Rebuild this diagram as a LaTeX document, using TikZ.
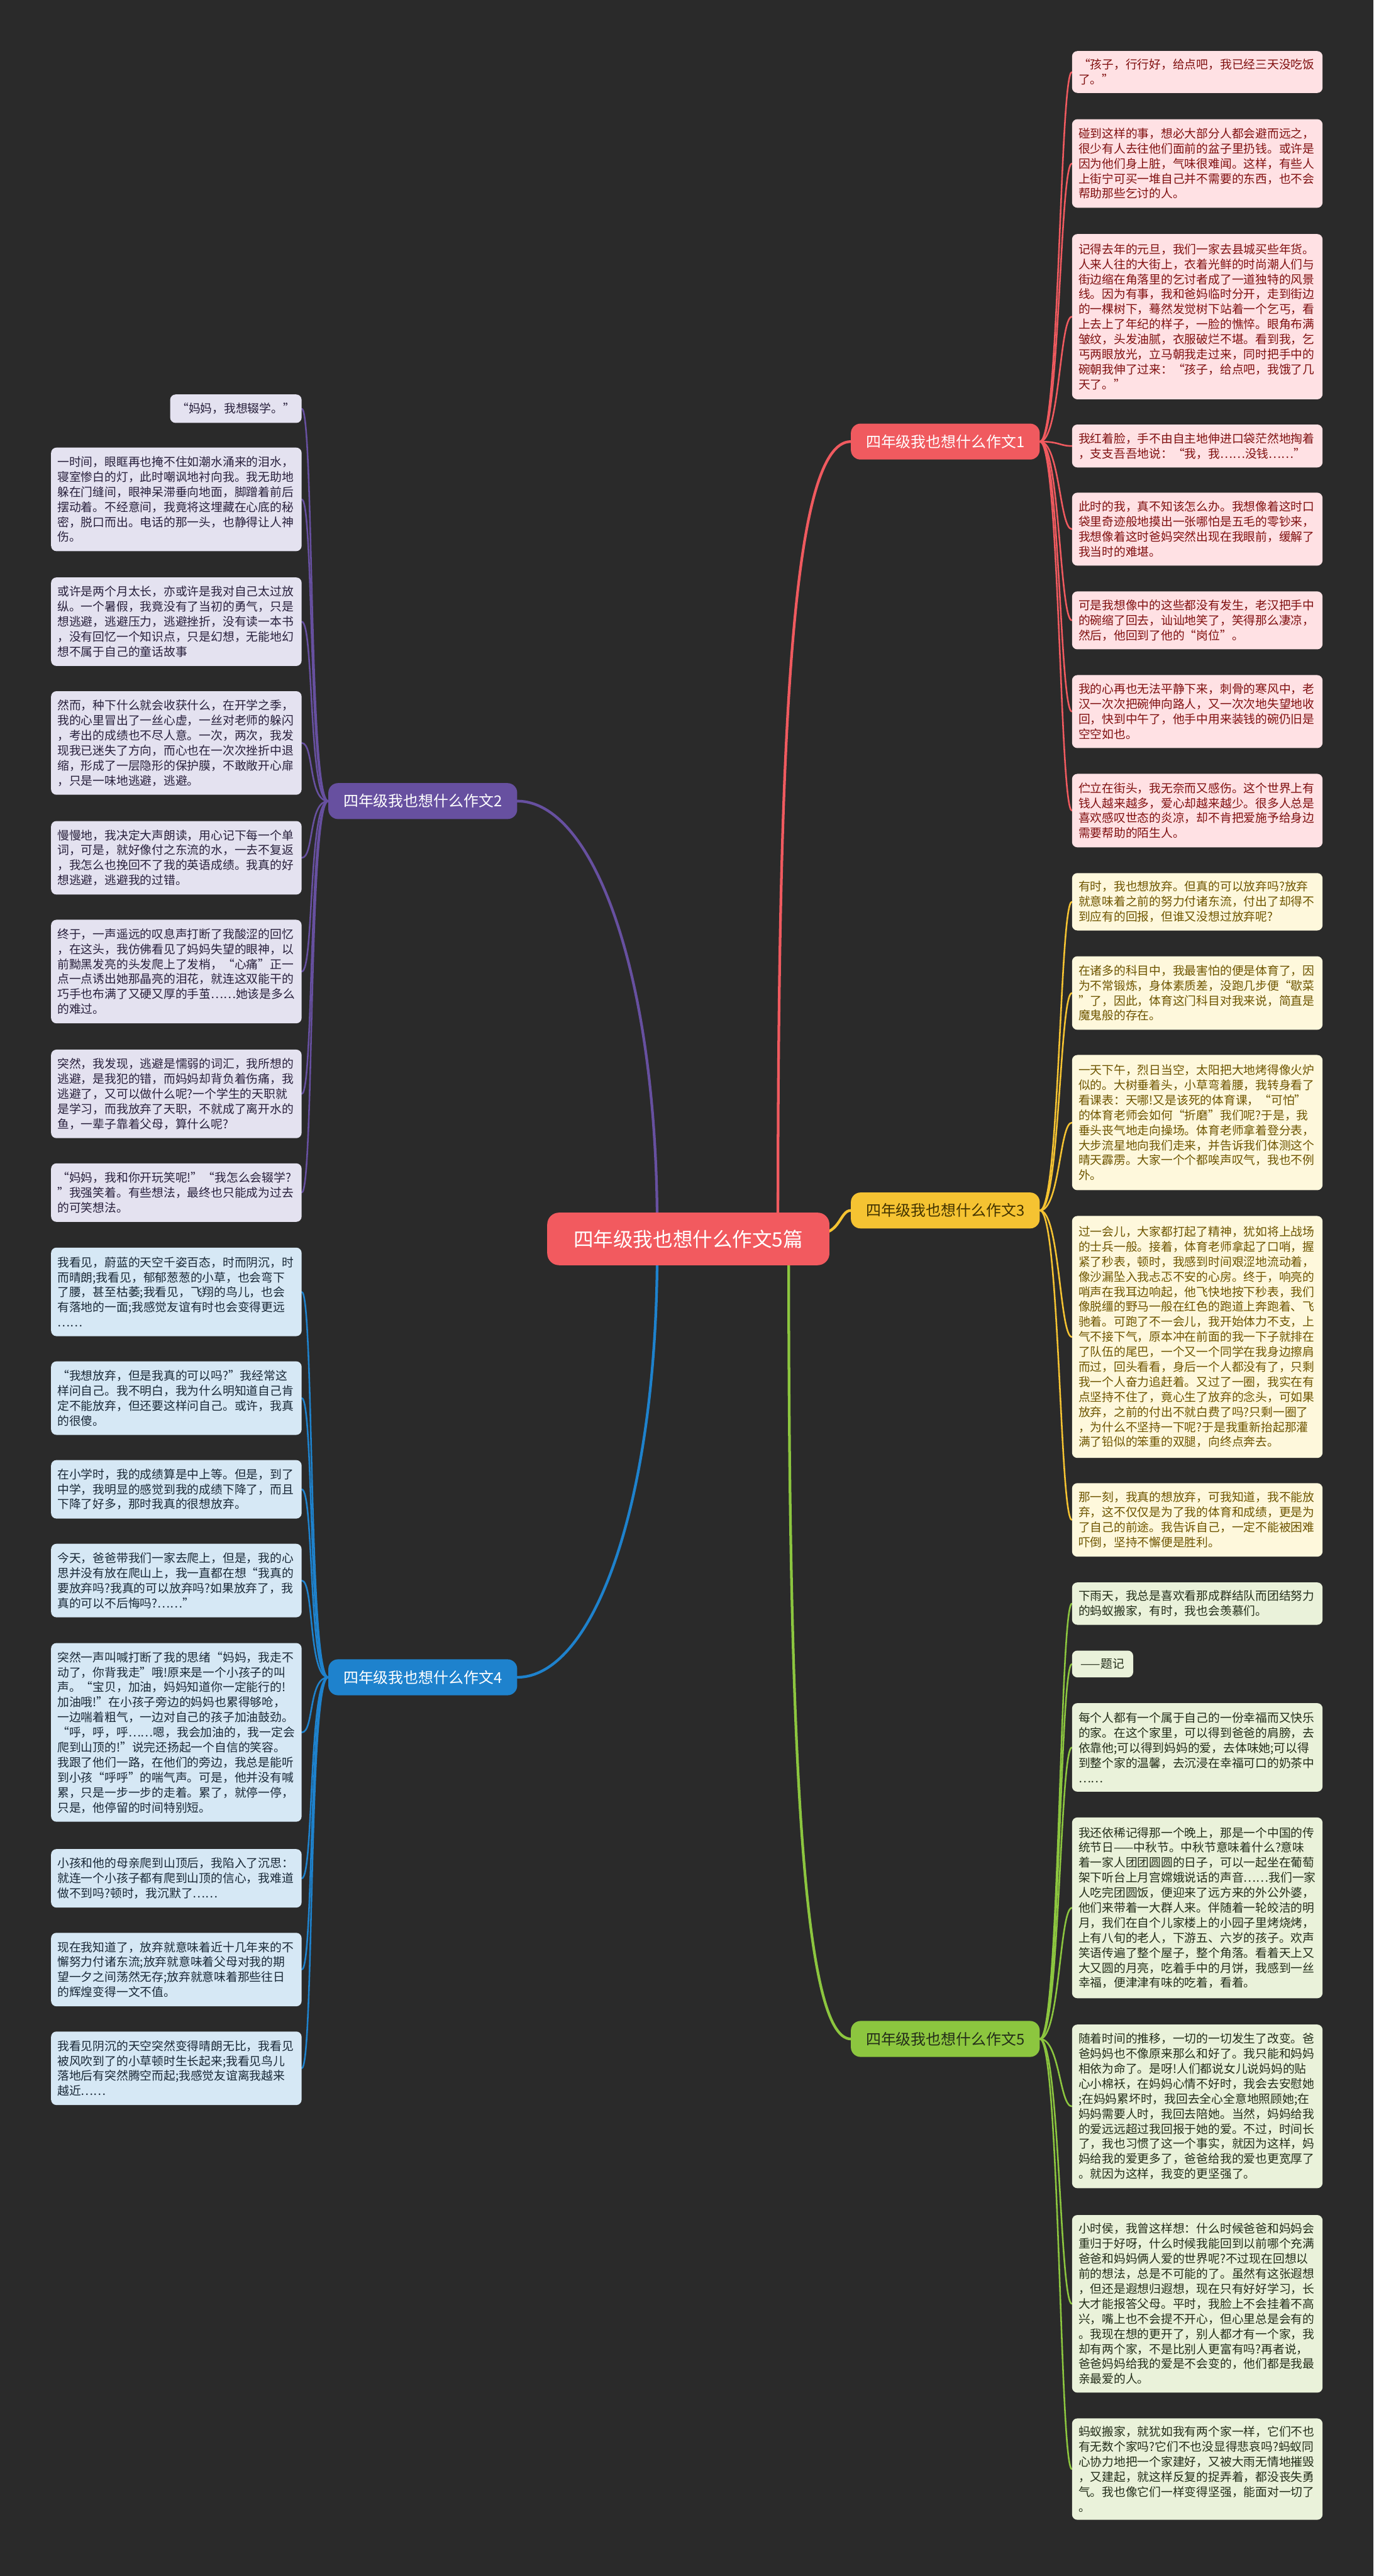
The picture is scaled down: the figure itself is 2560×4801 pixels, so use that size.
\documentclass[tikz,border=0pt]{standalone}
\usepackage{fontspec}
\setmainfont{Noto Sans CJK SC}
\usetikzlibrary{calc}
\pgfdeclarelayer{bg}\pgfdeclarelayer{lines}\pgfsetlayers{bg,lines,main}
\definecolor{bgc}{RGB}{42,42,42}
\definecolor{cfill}{RGB}{242,90,95}
\definecolor{lnR}{RGB}{240,90,95}\definecolor{fR}{RGB}{255,225,228}\definecolor{tR}{RGB}{128,16,16}
\definecolor{lnY}{RGB}{245,195,50}\definecolor{fY}{RGB}{254,248,220}\definecolor{tY}{RGB}{110,85,0}
\definecolor{lnG}{RGB}{140,198,63}\definecolor{fG}{RGB}{234,242,218}\definecolor{tG}{RGB}{35,45,25}
\definecolor{lnP}{RGB}{103,80,160}\definecolor{fP}{RGB}{228,226,240}\definecolor{tP}{RGB}{40,32,60}
\definecolor{lnB}{RGB}{30,130,205}\definecolor{fB}{RGB}{214,232,245}\definecolor{tB}{RGB}{25,40,55}
\begin{document}
\begin{tikzpicture}[x=1pt,y=-1pt,
 leaf/.style={anchor=north west, rounded corners=10pt, text width=443pt, align=left, inner xsep=12pt, inner ysep=0pt, font=\fontsize{22}{28}\selectfont},
 hh/.style={minimum height=#1},
 leafR/.style={leaf, fill=fR, text=tR},
 leafY/.style={leaf, fill=fY, text=tY},
 leafG/.style={leaf, fill=fG, text=tG},
 leafP/.style={leaf, fill=fP, text=tP},
 leafB/.style={leaf, fill=fB, text=tB},
 branch/.style={rounded corners=18pt, minimum width=352pt, minimum height=67pt, inner sep=0pt, font=\fontsize{28}{34}\selectfont},
 trunk/.style={line width=5pt, line cap=round},
 twig/.style={line width=3pt, line cap=round}]
\begin{pgfonlayer}{bg}
\fill[bgc] (0,0) rectangle (2560,4801);
\end{pgfonlayer}
\useasboundingbox (0,0) rectangle (2560,4801);

% center
\node[rounded corners=22pt, minimum width=526pt, minimum height=98pt, inner sep=0pt, fill=cfill, text=white, font=\fontsize{37}{44}\selectfont] (c) at (1283,2309) {四年级我也想什么作文5篇};

% branches
\node[branch, fill=lnR, text=white] (b1) at (1762,823) {四年级我也想什么作文1};
\node[branch, fill=lnP, text=white] (b2) at (788,1493) {四年级我也想什么作文2};
\node[branch, fill=lnY, text=tY!60!black] (b3) at (1762,2256) {四年级我也想什么作文3};
\node[branch, fill=lnB, text=white] (b4) at (788,3126) {四年级我也想什么作文4};
\node[branch, fill=lnG, text=tG] (b5) at (1762,3800) {四年级我也想什么作文5};

% branch 1 leaves
\node[leafR, hh=78] (r1a) at (1998,95) {“孩子，行行好，给点吧，我已经三天没吃饭\\了。”};
\node[leafR, hh=165] (r1b) at (1998,222) {碰到这样的事，想必大部分人都会避而远之，\\很少有人去往他们面前的盆子里扔钱。或许是\\因为他们身上脏，气味很难闻。这样，有些人\\上街宁可买一堆自己并不需要的东西，也不会\\帮助那些乞讨的人。};
\node[leafR, hh=308] (r1c) at (1998,436) {记得去年的元旦，我们一家去县城买些年货。\\人来人往的大街上，衣着光鲜的时尚潮人们与\\街边缩在角落里的乞讨者成了一道独特的风景\\线。因为有事，我和爸妈临时分开，走到街边\\的一棵树下，蓦然发觉树下站着一个乞丐，看\\上去上了年纪的样子，一脸的憔悴。眼角布满\\皱纹，头发油腻，衣服破烂不堪。看到我，乞\\丐两眼放光，立马朝我走过来，同时把手中的\\碗朝我伸了过来：“孩子，给点吧，我饿了几\\天了。”};
\node[leafR, hh=80] (r1d) at (1998,791) {我红着脸，手不由自主地伸进口袋茫然地掏着\\，支支吾吾地说：“我，我……没钱……”};
\node[leafR, hh=136] (r1e) at (1998,918) {此时的我，真不知该怎么办。我想像着这时口\\袋里奇迹般地摸出一张哪怕是五毛的零钞来，\\我想像着这时爸妈突然出现在我眼前，缓解了\\我当时的难堪。};
\node[leafR, hh=108] (r1f) at (1998,1102) {可是我想像中的这些都没有发生，老汉把手中\\的碗缩了回去，讪讪地笑了，笑得那么凄凉，\\然后，他回到了他的“岗位”。};
\node[leafR, hh=136] (r1g) at (1998,1258) {我的心再也无法平静下来，刺骨的寒风中，老\\汉一次次把碗伸向路人，又一次次地失望地收\\回，快到中午了，他手中用来装钱的碗仍旧是\\空空如也。};
\node[leafR, hh=137] (r1h) at (1998,1442) {伫立在街头，我无奈而又感伤。这个世界上有\\钱人越来越多，爱心却越来越少。很多人总是\\喜欢感叹世态的炎凉，却不肯把爱施予给身边\\需要帮助的陌生人。};

% branch 3 leaves
\node[leafY, hh=107] (r3a) at (1998,1627) {有时，我也想放弃。但真的可以放弃吗?放弃\\就意味着之前的努力付诸东流，付出了却得不\\到应有的回报，但谁又没想过放弃呢?};
\node[leafY, hh=137] (r3b) at (1998,1782) {在诸多的科目中，我最害怕的便是体育了，因\\为不常锻炼，身体素质差，没跑几步便“歇菜\\”了，因此，体育这门科目对我来说，简直是\\魔鬼般的存在。};
\node[leafY, hh=252] (r3c) at (1998,1966) {一天下午，烈日当空，太阳把大地烤得像火炉\\似的。大树垂着头，小草弯着腰，我转身看了\\看课表：天哪!又是该死的体育课，“可怕”\\的体育老师会如何“折磨”我们呢?于是，我\\垂头丧气地走向操场。体育老师拿着登分表，\\大步流星地向我们走来，并告诉我们体测这个\\晴天霹雳。大家一个个都唉声叹气，我也不例\\外。};
\node[leafY, hh=451] (r3d) at (1998,2266) {过一会儿，大家都打起了精神，犹如将上战场\\的士兵一般。接着，体育老师拿起了口哨，握\\紧了秒表，顿时，我感到时间艰涩地流动着，\\像沙漏坠入我忐忑不安的心房。终于，响亮的\\哨声在我耳边响起，他飞快地按下秒表，我们\\像脱缰的野马一般在红色的跑道上奔跑着、飞\\驰着。可跑了不一会儿，我开始体力不支，上\\气不接下气，原本冲在前面的我一下子就排在\\了队伍的尾巴，一个又一个同学在我身边擦肩\\而过，回头看看，身后一个人都没有了，只剩\\我一个人奋力追赶着。又过了一圈，我实在有\\点坚持不住了，竟心生了放弃的念头，可如果\\放弃，之前的付出不就白费了吗?只剩一圈了\\，为什么不坚持一下呢?于是我重新抬起那灌\\满了铅似的笨重的双腿，向终点奔去。};
\node[leafY, hh=137] (r3e) at (1998,2764) {那一刻，我真的想放弃，可我知道，我不能放\\弃，这不仅仅是为了我的体育和成绩，更是为\\了自己的前途。我告诉自己，一定不能被困难\\吓倒，坚持不懈便是胜利。};

% branch 5 leaves
\node[leafG, hh=79] (r5a) at (1998,2949) {下雨天，我总是喜欢看那成群结队而团结努力\\的蚂蚁搬家，有时，我也会羡慕们。};
\node[leafG, hh=50, text width=90pt, align=center] (r5b) at (1998,3076) {——题记};
\node[leafG, hh=165] (r5c) at (1998,3174) {每个人都有一个属于自己的一份幸福而又快乐\\的家。在这个家里，可以得到爸爸的肩膀，去\\依靠他;可以得到妈妈的爱，去体味她;可以得\\到整个家的温馨，去沉浸在幸福可口的奶茶中\\……};
\node[leafG, hh=337] (r5d) at (1998,3387) {我还依稀记得那一个晚上，那是一个中国的传\\统节日——中秋节。中秋节意味着什么?意味\\着一家人团团圆圆的日子，可以一起坐在葡萄\\架下听台上月宫嫦娥说话的声音……我们一家\\人吃完团圆饭，便迎来了远方来的外公外婆，\\他们来带着一大群人来。伴随着一轮皎洁的明\\月，我们在自个儿家楼上的小园子里烤烧烤，\\上有八旬的老人，下游五、六岁的孩子。欢声\\笑语传遍了整个屋子，整个角落。看着天上又\\大又圆的月亮，吃着手中的月饼，我感到一丝\\幸福，便津津有味的吃着，看着。};
\node[leafG, hh=305] (r5e) at (1998,3773) {随着时间的推移，一切的一切发生了改变。爸\\爸妈妈也不像原来那么和好了。我只能和妈妈\\相依为命了。是呀!人们都说女儿说妈妈的贴\\心小棉袄，在妈妈心情不好时，我会去安慰她\\;在妈妈累坏时，我回去全心全意地照顾她;在\\妈妈需要人时，我回去陪她。当然，妈妈给我\\的爱远远超过我回报于她的爱。不过，时间长\\了，我也习惯了这一个事实，就因为这样，妈\\妈给我的爱更多了，爸爸给我的爱也更宽厚了\\。就因为这样，我变的更坚强了。};
\node[leafG, hh=331] (r5f) at (1998,4128) {小时侯，我曾这样想：什么时候爸爸和妈妈会\\重归于好呀，什么时候我能回到以前哪个充满\\爸爸和妈妈俩人爱的世界呢?不过现在回想以\\前的想法，总是不可能的了。虽然有这张遐想\\，但还是遐想归遐想，现在只有好好学习，长\\大才能报答父母。平时，我脸上不会挂着不高\\兴，嘴上也不会提不开心，但心里总是会有的\\。我现在想的更开了，别人都才有一个家，我\\却有两个家，不是比别人更富有吗?再者说，\\爸爸妈妈给我的爱是不会变的，他们都是我最\\亲最爱的人。};
\node[leafG, hh=189] (r5g) at (1998,4507) {蚂蚁搬家，就犹如我有两个家一样，它们不也\\有无数个家吗?它们不也没显得悲哀吗?蚂蚁同\\心协力地把一个家建好，又被大雨无情地摧毁\\，又建起，就这样反复的捉弄着，都没丧失勇\\气。我也像它们一样变得坚强，能面对一切了\\。};

% branch 2 leaves
\node[leafP, hh=53, text width=221pt, align=center] (l2a) at (317,735) {“妈妈，我想辍学。”};
\node[leafP, hh=193] (l2b) at (95,834) {一时间，眼眶再也掩不住如潮水涌来的泪水，\\寝室惨白的灯，此时嘲讽地衬向我。我无助地\\躲在门缝间，眼神呆滞垂向地面，脚蹭着前后\\摆动着。不经意间，我竟将这埋藏在心底的秘\\密，脱口而出。电话的那一头，也静得让人神\\伤。};
\node[leafP, hh=165] (l2c) at (95,1076) {或许是两个月太长，亦或许是我对自己太过放\\纵。一个暑假，我竟没有了当初的勇气，只是\\想逃避，逃避压力，逃避挫折，没有读一本书\\，没有回忆一个知识点，只是幻想，无能地幻\\想不属于自己的童话故事};
\node[leafP, hh=193] (l2d) at (95,1288) {然而，种下什么就会收获什么，在开学之季，\\我的心里冒出了一丝心虚，一丝对老师的躲闪\\，考出的成绩也不尽人意。一次，两次，我发\\现我已迷失了方向，而心也在一次次挫折中退\\缩，形成了一层隐形的保护膜，不敢敞开心扉\\，只是一味地逃避，逃避。};
\node[leafP, hh=137] (l2e) at (95,1530) {慢慢地，我决定大声朗读，用心记下每一个单\\词，可是，就好像付之东流的水，一去不复返\\，我怎么也挽回不了我的英语成绩。我真的好\\想逃避，逃避我的过错。};
\node[leafP, hh=193] (l2f) at (95,1714) {终于，一声遥远的叹息声打断了我酸涩的回忆\\，在这头，我仿佛看见了妈妈失望的眼神，以\\前黝黑发亮的头发爬上了发梢，“心痛”正一\\点一点诱出她那晶亮的泪花，就连这双能干的\\巧手也布满了又硬又厚的手茧……她该是多么\\的难过。};
\node[leafP, hh=165] (l2g) at (95,1956) {突然，我发现，逃避是懦弱的词汇，我所想的\\逃避，是我犯的错，而妈妈却背负着伤痛，我\\逃避了，又可以做什么呢?一个学生的天职就\\是学习，而我放弃了天职，不就成了离开水的\\鱼，一辈子靠着父母，算什么呢?};
\node[leafP, hh=109] (l2h) at (95,2168) {“妈妈，我和你开玩笑呢!”“我怎么会辍学?\\”我强笑着。有些想法，最终也只能成为过去\\的可笑想法。};

% branch 4 leaves
\node[leafB, hh=165] (l4a) at (95,2325) {我看见，蔚蓝的天空千姿百态，时而阴沉，时\\而晴朗;我看见，郁郁葱葱的小草，也会弯下\\了腰，甚至枯萎;我看见，飞翔的鸟儿，也会\\有落地的一面;我感觉友谊有时也会变得更远\\……};
\node[leafB, hh=137] (l4b) at (95,2537) {“我想放弃，但是我真的可以吗?”我经常这\\样问自己。我不明白，我为什么明知道自己肯\\定不能放弃，但还要这样问自己。或许，我真\\的很傻。};
\node[leafB, hh=109] (l4c) at (95,2721) {在小学时，我的成绩算是中上等。但是，到了\\中学，我明显的感觉到我的成绩下降了，而且\\下降了好多，那时我真的很想放弃。};
\node[leafB, hh=137] (l4d) at (95,2877) {今天，爸爸带我们一家去爬上，但是，我的心\\思并没有放在爬山上，我一直都在想“我真的\\要放弃吗?我真的可以放弃吗?如果放弃了，我\\真的可以不后悔吗?……”};
\node[leafB, hh=333] (l4e) at (95,3062) {突然一声叫喊打断了我的思绪“妈妈，我走不\\动了，你背我走”哦!原来是一个小孩子的叫\\声。“宝贝，加油，妈妈知道你一定能行的!\\加油哦!”在小孩子旁边的妈妈也累得够呛，\\一边喘着粗气，一边对自己的孩子加油鼓劲。\\“呼，呼，呼……嗯，我会加油的，我一定会\\爬到山顶的!”说完还扬起一个自信的笑容。\\我跟了他们一路，在他们的旁边，我总是能听\\到小孩“呼呼”的喘气声。可是，他并没有喊\\累，只是一步一步的走着。累了，就停一停，\\只是，他停留的时间特别短。};
\node[leafB, hh=109] (l4f) at (95,3446) {小孩和他的母亲爬到山顶后，我陷入了沉思：\\就连一个小孩子都有爬到山顶的信心，我难道\\做不到吗?顿时，我沉默了……};
\node[leafB, hh=137] (l4g) at (95,3602) {现在我知道了，放弃就意味着近十几年来的不\\懈努力付诸东流;放弃就意味着父母对我的期\\望一夕之间荡然无存;放弃就意味着那些往日\\的辉煌变得一文不值。};
\node[leafB, hh=137] (l4h) at (95,3786) {我看见阴沉的天空突然变得晴朗无比，我看见\\被风吹到了的小草顿时生长起来;我看见鸟儿\\落地后有突然腾空而起;我感觉友谊离我越来\\越近……};

\begin{pgfonlayer}{lines}
% center to branches
\draw[trunk, lnR] ($(c.north)+(167,30)$) .. controls ($(c.north)+(167,-900)$) and ($(b1.west)+(-110,0)$) .. (b1.west);
\draw[trunk, lnP] ($(c.north)+(-58,30)$) .. controls ($(c.north)+(-58,-450)$) and ($(b2.east)+(140,0)$) .. (b2.east);
\draw[trunk, lnY] ($(c.east)+(-20,-10)$) .. controls ($(c.east)+(20,-10)$) and ($(b3.west)+(-20,0)$) .. (b3.west);
\draw[trunk, lnB] ($(c.south)+(-58,-30)$) .. controls ($(c.south)+(-58,450)$) and ($(b4.east)+(140,0)$) .. (b4.east);
\draw[trunk, lnG] ($(c.south)+(187,-30)$) .. controls ($(c.south)+(187,900)$) and ($(b5.west)+(-90,0)$) .. (b5.west);
% branch 1
\foreach \n in {r1a,r1b,r1c,r1d,r1e,r1f,r1g,r1h}
 \draw[twig, lnR] (b1.east) .. controls +(37,0) and +(-23,0) .. (\n.west);
\foreach \n in {r3a,r3b,r3c,r3d,r3e}
 \draw[twig, lnY] (b3.east) .. controls +(37,0) and +(-23,0) .. (\n.west);
\foreach \n in {r5a,r5b,r5c,r5d,r5e,r5f,r5g}
 \draw[twig, lnG] (b5.east) .. controls +(37,0) and +(-23,0) .. (\n.west);
\foreach \n in {l2a,l2b,l2c,l2d,l2e,l2f,l2g,l2h}
 \draw[twig, lnP] (b2.west) .. controls +(-37,0) and +(23,0) .. (\n.east);
\foreach \n in {l4a,l4b,l4c,l4d,l4e,l4f,l4g,l4h}
 \draw[twig, lnB] (b4.west) .. controls +(-37,0) and +(23,0) .. (\n.east);
\end{pgfonlayer}
\end{tikzpicture}
\end{document}
